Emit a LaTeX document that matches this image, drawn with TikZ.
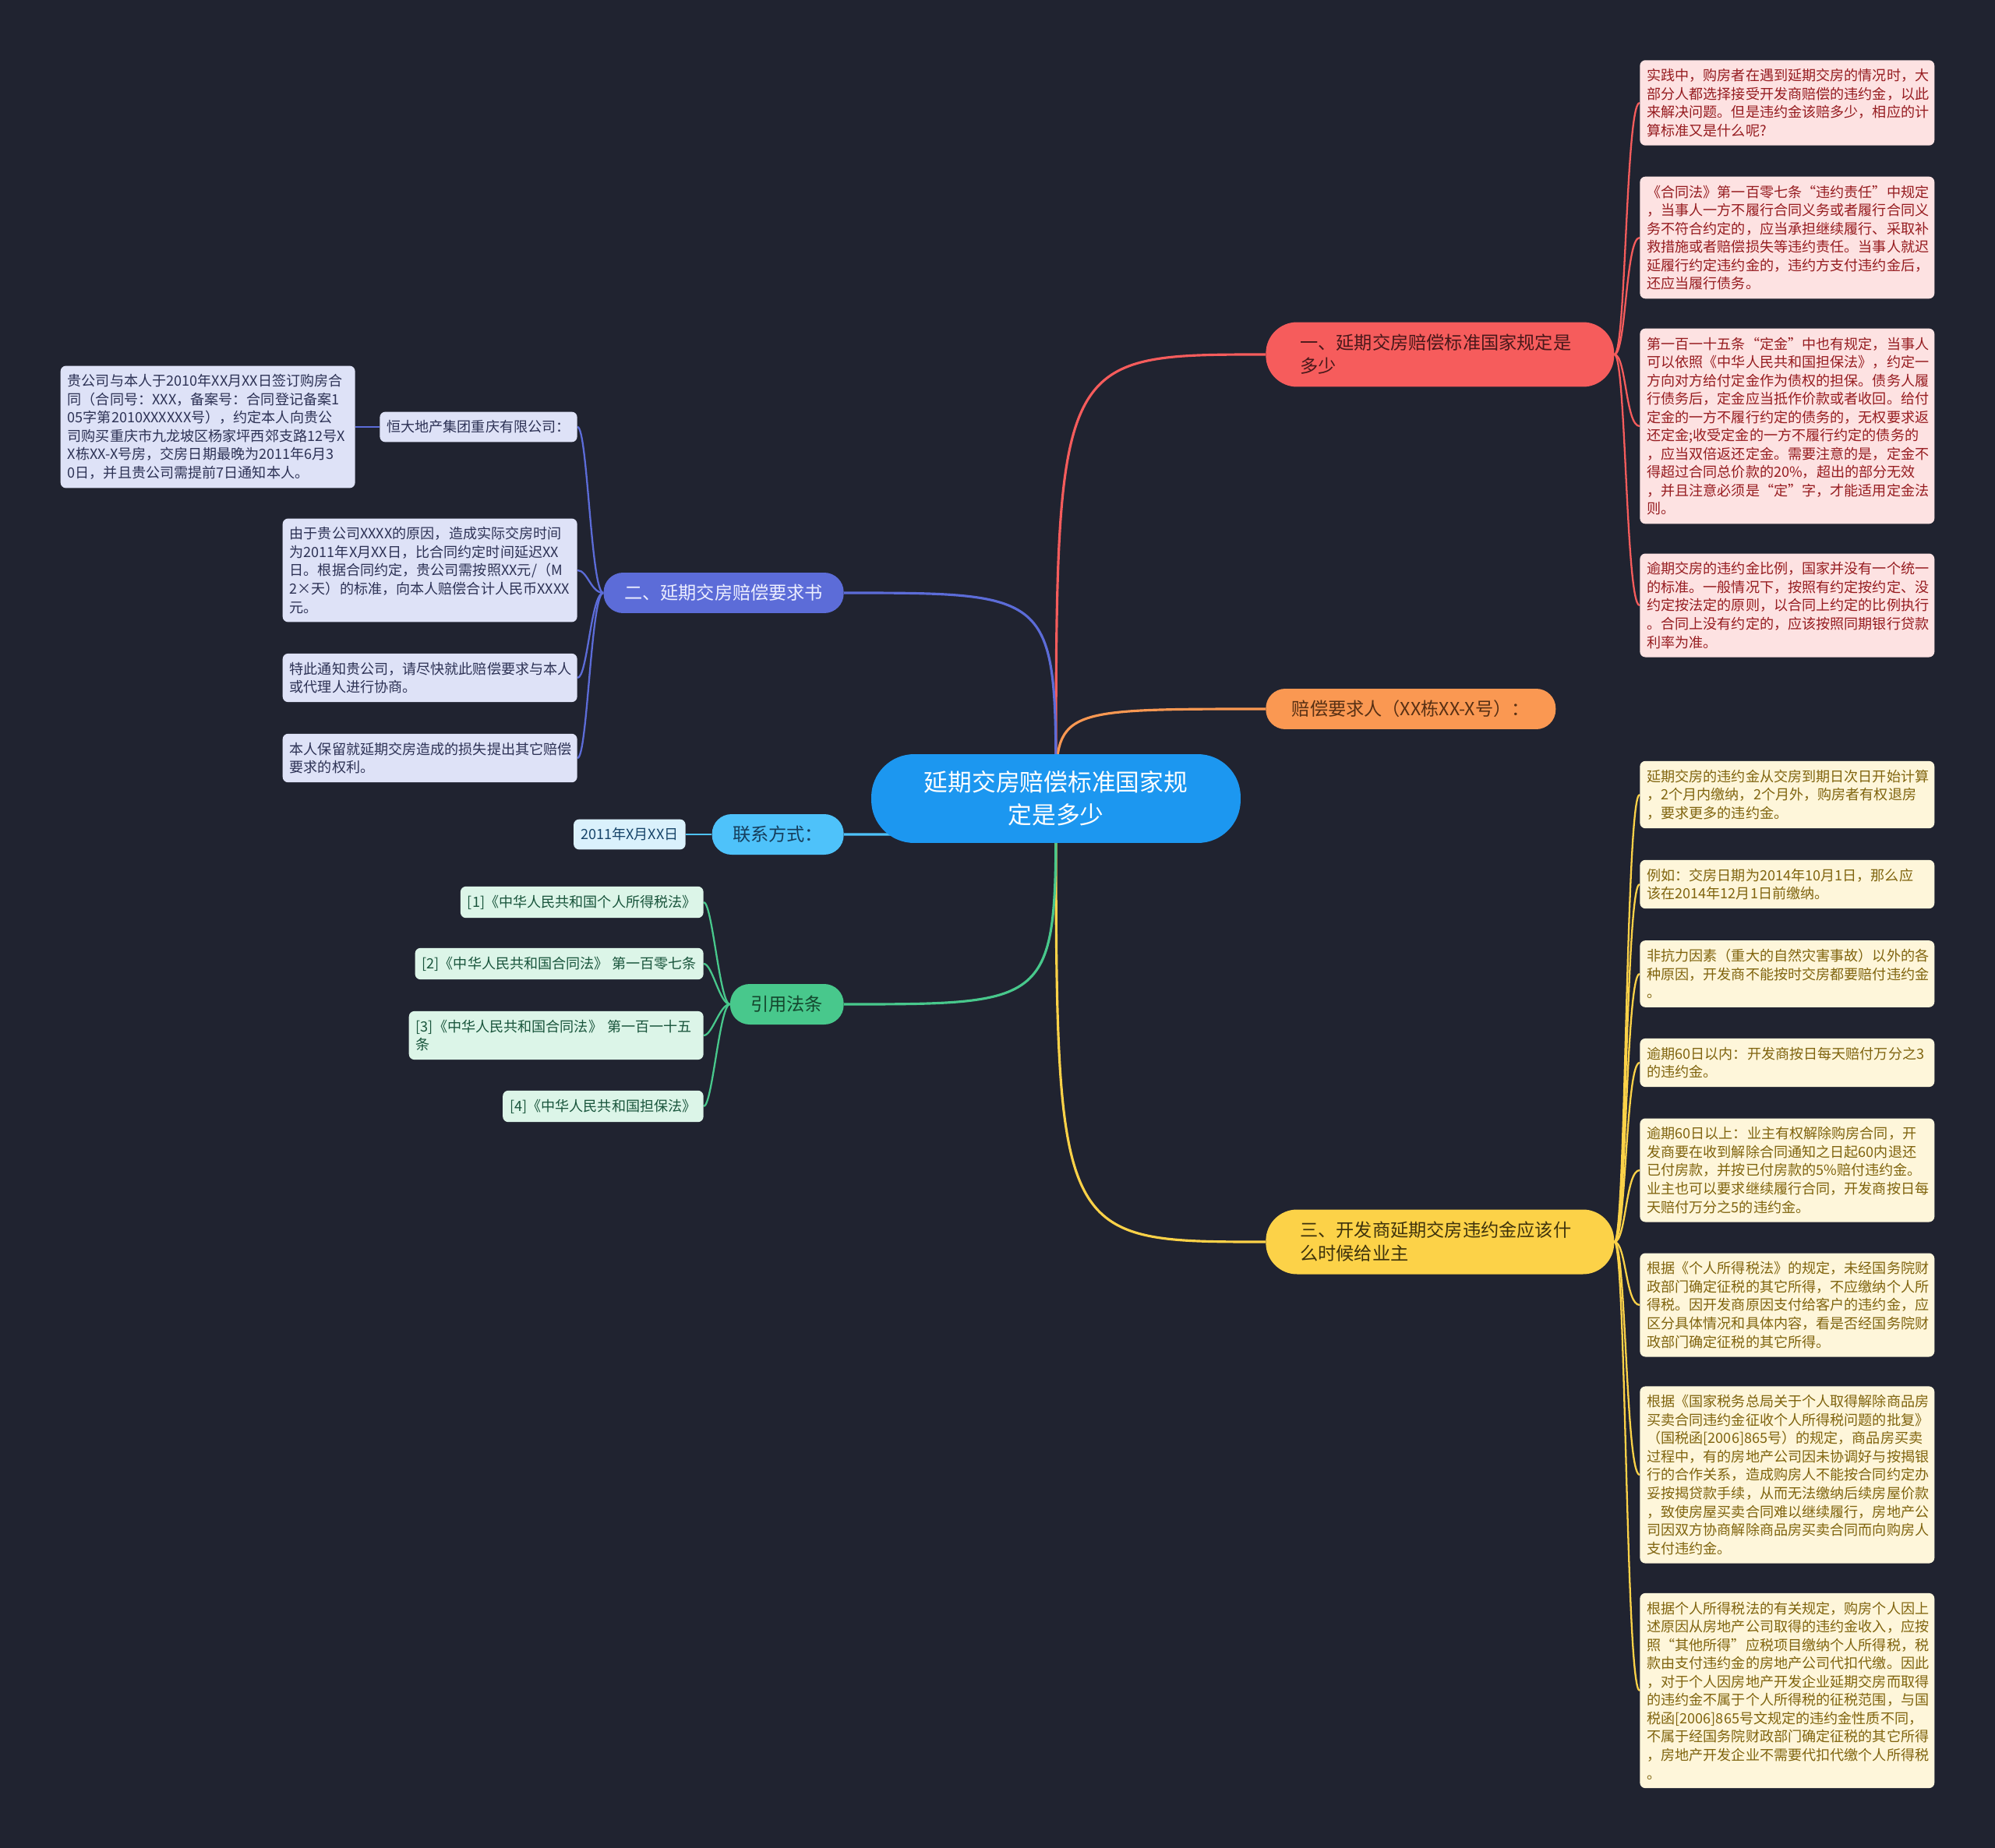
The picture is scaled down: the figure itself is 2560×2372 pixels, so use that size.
\documentclass[tikz,border=0pt]{standalone}
\usepackage{fontspec}
\setmainfont{Noto Sans CJK SC}
\usetikzlibrary{backgrounds}

\definecolor{bgcol}{RGB}{32,35,48}
\definecolor{rootfill}{RGB}{28,151,240}
\definecolor{redb}{RGB}{246,92,92}
\definecolor{redbt}{RGB}{72,24,26}
\definecolor{orab}{RGB}{250,152,82}
\definecolor{orabt}{RGB}{88,48,20}
\definecolor{yelb}{RGB}{252,210,72}
\definecolor{yelbt}{RGB}{62,50,12}
\definecolor{purb}{RGB}{92,108,216}
\definecolor{purbt}{RGB}{236,238,255}
\definecolor{cyab}{RGB}{78,194,250}
\definecolor{cyabt}{RGB}{22,62,92}
\definecolor{greb}{RGB}{72,200,140}
\definecolor{grebt}{RGB}{20,70,45}
\definecolor{rnfill}{RGB}{253,226,226}
\definecolor{rntext}{RGB}{150,28,32}
\definecolor{ynfill}{RGB}{254,246,218}
\definecolor{yntext}{RGB}{128,100,14}
\definecolor{lnfill}{RGB}{222,226,247}
\definecolor{lntext}{RGB}{45,50,85}
\definecolor{dnfill}{RGB}{218,241,252}
\definecolor{dntext}{RGB}{22,68,105}
\definecolor{gnfill}{RGB}{220,245,232}
\definecolor{gntext}{RGB}{25,85,60}

\newcommand\notesize{\fontsize{10.3}{13.4}\selectfont}
\newcommand\branchsize{\fontsize{13.2}{17}\selectfont}
\newcommand\rootsize{\fontsize{17.5}{23.7}\selectfont}

\tikzset{
  root/.style={fill=rootfill, text=white, font=\rootsize, text width=6.9cm, align=center,
    inner xsep=1.29cm, minimum height=2.28cm, rounded corners=1.1cm},
  branch/.style={font=\branchsize, inner ysep=0.1cm, inner xsep=0.53cm,
    minimum height=1.04cm, rounded corners=0.5cm},
  bigbranch/.style={branch, text width=7.18cm, align=left, inner xsep=0.88cm,
    minimum height=1.66cm, rounded corners=0.8cm, anchor=west},
  note/.style={rounded corners=0.14cm, inner xsep=0.18cm, inner ysep=0.22cm, align=left, font=\notesize},
  wnote/.style={note, text width=7.2cm},
  rnote/.style={wnote, fill=rnfill, text=rntext, anchor=west},
  ynote/.style={wnote, fill=ynfill, text=yntext, anchor=west},
  lnote/.style={note, fill=lnfill, text=lntext, anchor=east},
  gnote/.style={note, fill=gnfill, text=gntext, anchor=east},
  main/.style={line width=1.8pt},
  sub/.style={line width=1.3pt}
}

\begin{document}
\begin{tikzpicture}[x=0.02cm, y=-0.02cm]
\useasboundingbox (0,0) rectangle (2560,2372);

\node[root] (root) at (1355,1025) {延期交房赔偿标准国家规\\定是多少};

\node[bigbranch, fill=redb, text=redbt] (b1) at (1624,455) {一、延期交房赔偿标准国家规定是\\多少};
\node[branch, fill=orab, text=orabt, anchor=west, inner xsep=0.58cm, minimum width=7.44cm] (b2) at (1624,910) {赔偿要求人（XX栋XX-X号）：};
\node[bigbranch, fill=yelb, text=yelbt] (b3) at (1624,1594) {三、开发商延期交房违约金应该什\\么时候给业主};
\node[branch, fill=purb, text=purbt, anchor=east] (b4) at (1083,761) {二、延期交房赔偿要求书};
\node[branch, fill=cyab, text=cyabt, anchor=east] (b5) at (1083,1071) {联系方式：};
\node[branch, fill=greb, text=grebt, anchor=east] (b6) at (1083,1289) {引用法条};

\node[rnote] (r1) at (2104,132) {实践中，购房者在遇到延期交房的情况时，大\\部分人都选择接受开发商赔偿的违约金，以此\\来解决问题。但是违约金该赔多少，相应的计\\算标准又是什么呢?};
\node[rnote] (r2) at (2104,305) {《合同法》第一百零七条“违约责任”中规定\\，当事人一方不履行合同义务或者履行合同义\\务不符合约定的，应当承担继续履行、采取补\\救措施或者赔偿损失等违约责任。当事人就迟\\延履行约定违约金的，违约方支付违约金后，\\还应当履行债务。};
\node[rnote] (r3) at (2104,547) {第一百一十五条“定金”中也有规定，当事人\\可以依照《中华人民共和国担保法》，约定一\\方向对方给付定金作为债权的担保。债务人履\\行债务后，定金应当抵作价款或者收回。给付\\定金的一方不履行约定的债务的，无权要求返\\还定金;收受定金的一方不履行约定的债务的\\，应当双倍返还定金。需要注意的是，定金不\\得超过合同总价款的20\%，超出的部分无效\\，并且注意必须是“定”字，才能适用定金法\\则。};
\node[rnote] (r4) at (2104,777) {逾期交房的违约金比例，国家并没有一个统一\\的标准。一般情况下，按照有约定按约定、没\\约定按法定的原则，以合同上约定的比例执行\\。合同上没有约定的，应该按照同期银行贷款\\利率为准。};

\node[ynote] (y1) at (2104,1020) {延期交房的违约金从交房到期日次日开始计算\\，2个月内缴纳，2个月外，购房者有权退房\\，要求更多的违约金。};
\node[ynote] (y2) at (2104,1135) {例如：交房日期为2014年10月1日，那么应\\该在2014年12月1日前缴纳。};
\node[ynote] (y3) at (2104,1250) {非抗力因素（重大的自然灾害事故）以外的各\\种原因，开发商不能按时交房都要赔付违约金\\。};
\node[ynote] (y4) at (2104,1364) {逾期60日以内：开发商按日每天赔付万分之3\\的违约金。};
\node[ynote] (y5) at (2104,1502) {逾期60日以上：业主有权解除购房合同，开\\发商要在收到解除合同通知之日起60内退还\\已付房款，并按已付房款的5\%赔付违约金。\\业主也可以要求继续履行合同，开发商按日每\\天赔付万分之5的违约金。};
\node[ynote] (y6) at (2104,1675) {根据《个人所得税法》的规定，未经国务院财\\政部门确定征税的其它所得，不应缴纳个人所\\得税。因开发商原因支付给客户的违约金，应\\区分具体情况和具体内容，看是否经国务院财\\政部门确定征税的其它所得。};
\node[ynote] (y7) at (2104,1893) {根据《国家税务总局关于个人取得解除商品房\\买卖合同违约金征收个人所得税问题的批复》\\（国税函[2006]865号）的规定，商品房买卖\\过程中，有的房地产公司因未协调好与按揭银\\行的合作关系，造成购房人不能按合同约定办\\妥按揭贷款手续，从而无法缴纳后续房屋价款\\，致使房屋买卖合同难以继续履行，房地产公\\司因双方协商解除商品房买卖合同而向购房人\\支付违约金。};
\node[ynote] (y8) at (2104,2170) {根据个人所得税法的有关规定，购房个人因上\\述原因从房地产公司取得的违约金收入，应按\\照“其他所得”应税项目缴纳个人所得税，税\\款由支付违约金的房地产公司代扣代缴。因此\\，对于个人因房地产开发企业延期交房而取得\\的违约金不属于个人所得税的征税范围，与国\\税函[2006]865号文规定的违约金性质不同，\\不属于经国务院财政部门确定征税的其它所得\\，房地产开发企业不需要代扣代缴个人所得税\\。};

\node[lnote] (firm) at (741,548) {恒大地产集团重庆有限公司：};
\node[lnote, text width=7.2cm] (deal) at (456,548) {贵公司与本人于2010年XX月XX日签订购房合\\同（合同号：XXX，备案号：合同登记备案1\\05字第2010XXXXXX号），约定本人向贵公\\司购买重庆市九龙坡区杨家坪西郊支路12号X\\X栋XX-X号房，交房日期最晚为2011年6月3\\0日，并且贵公司需提前7日通知本人。};
\node[lnote, text width=7.2cm] (l1) at (741,732) {由于贵公司XXXX的原因，造成实际交房时间\\为2011年X月XX日，比合同约定时间延迟XX\\日。根据合同约定，贵公司需按照XX元/（M\\2×天）的标准，向本人赔偿合计人民币XXXX\\元。};
\node[lnote, text width=7.2cm] (l2) at (741,870) {特此通知贵公司，请尽快就此赔偿要求与本人\\或代理人进行协商。};
\node[lnote, text width=7.2cm] (l3) at (741,973) {本人保留就延期交房造成的损失提出其它赔偿\\要求的权利。};

\node[note, fill=dnfill, text=dntext, anchor=east] (date) at (880,1071) {2011年X月XX日};

\node[gnote] (g1) at (903,1158) {[1]《中华人民共和国个人所得税法》};
\node[gnote] (g2) at (903,1237) {[2]《中华人民共和国合同法》 第一百零七条};
\node[gnote, text width=7.2cm] (g3) at (903,1329) {[3]《中华人民共和国合同法》 第一百一十五\\条};
\node[gnote] (g4) at (903,1420) {[4]《中华人民共和国担保法》};

\begin{scope}[on background layer]
\fill[bgcol] (0,0) rectangle (2560,2372);
\draw[main, redb] (root.center) .. controls (root.center |- b1.west) .. (b1.west);
\draw[main, orab] (root.center) .. controls (root.center |- b2.west) .. (b2.west);
\draw[main, yelb] (root.center) .. controls (root.center |- b3.west) .. (b3.west);
\draw[main, purb] (root.center) .. controls (root.center |- b4.east) .. (b4.east);
\draw[main, cyab] (root.center) .. controls (root.center |- b5.east) .. (b5.east);
\draw[main, greb] (root.center) .. controls (root.center |- b6.east) .. (b6.east);

\foreach \i in {1,...,4}
  \draw[sub, redb] (b1.east) .. controls +(15,0) and +(-18,0) .. (r\i.west);
\foreach \i in {1,...,8}
  \draw[sub, yelb] (b3.east) .. controls +(15,0) and +(-18,0) .. (y\i.west);
\foreach \n in {firm,l1,l2,l3}
  \draw[sub, purb] (b4.west) .. controls +(-16,0) and +(13,0) .. (\n.east);
\draw[sub, purb] (firm.west) -- (deal.east);
\draw[sub, cyab] (b5.west) -- (date.east);
\foreach \i in {1,...,4}
  \draw[sub, greb] (b6.west) .. controls +(-13,0) and +(11,0) .. (g\i.east);
\end{scope}
\end{tikzpicture}
\end{document}
